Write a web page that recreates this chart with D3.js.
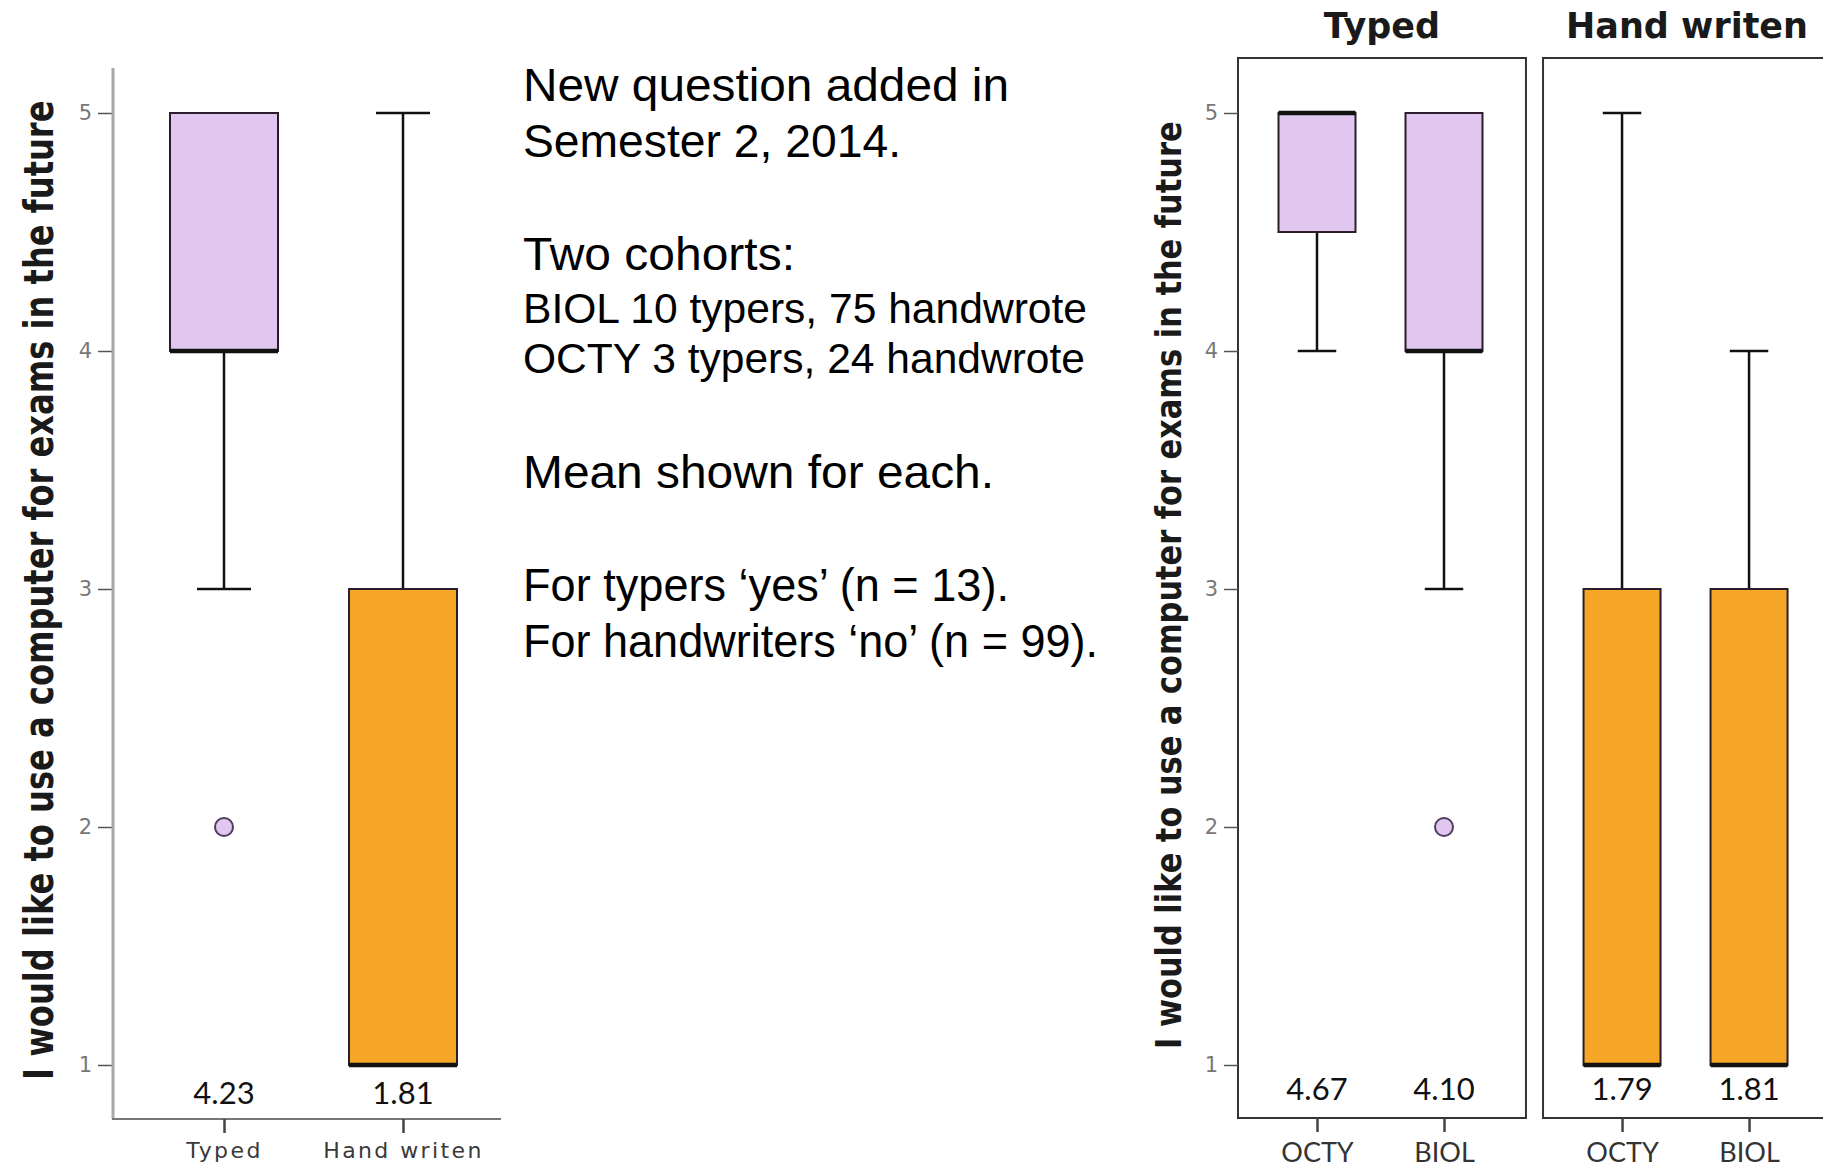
<!DOCTYPE html>
<html>
<head>
<meta charset="utf-8">
<script src="https://cdn.jsdelivr.net/npm/d3@7/dist/d3.min.js"></script>
<style>
  html, body { margin: 0; padding: 0; background: #fff; overflow: hidden; }
  svg { display: block; }
</style>
</head>
<body>
<svg id="chart" width="1823" height="1167"></svg>
<script>
// ---- data ----
const yTicks = [1, 2, 3, 4, 5];

// left chart : all students
const leftCats = ["Typed", "Hand writen"];
const leftLo = [3, 1];
const leftQ1 = [4, 1];
const leftMed = [4, 1];
const leftQ3 = [5, 3];
const leftHi = [5, 5];
const leftOutliers = [[2], []];
const leftMeans = ["4.23", "1.81"];

// right chart : split by cohort
const panels = ["Typed", "Hand writen"];
const cohorts = ["OCTY", "BIOL"];
const rightPanel = ["Typed", "Typed", "Hand writen", "Hand writen"];
const rightCohort = ["OCTY", "BIOL", "OCTY", "BIOL"];
const rightLo = [4, 3, 1, 1];
const rightQ1 = [4.5, 4, 1, 1];
const rightMed = [5, 4, 1, 1];
const rightQ3 = [5, 5, 3, 3];
const rightHi = [5, 5, 5, 4];
const rightOutliers = [[], [2], [], []];
const rightMeans = ["4.67", "4.10", "1.79", "1.81"];

const yTitle = "I would like to use a computer for exams in the future";
const notesBig = ["New question added in", "Semester 2, 2014.", "Two cohorts:"];
const notesSmall = ["BIOL 10 typers, 75 handwrote", "OCTY 3 typers, 24 handwrote"];
const notesBig2 = ["Mean shown for each.", "For typers \u2018yes\u2019 (n = 13).", "For handwriters \u2018no\u2019 (n = 99)."];

const fillColor = { "Typed": "#e1c7ef", "Hand writen": "#f6a626" };

const svg = d3.select("#chart");
const y = d3.scaleLinear().domain([1, 5]).range([1065, 113]);

// draws one box with whiskers; d = {x, w, lo, q1, med, q3, hi, out, fill}
function drawBox(g, d) {
  const capW = d.w / 2;
  // whiskers
  g.append("line").attr("x1", d.x).attr("x2", d.x)
    .attr("y1", y(d.hi)).attr("y2", y(d.q3))
    .attr("stroke", "#111").attr("stroke-width", 2.5);
  g.append("line").attr("x1", d.x).attr("x2", d.x)
    .attr("y1", y(d.q1)).attr("y2", y(d.lo))
    .attr("stroke", "#111").attr("stroke-width", 2.5);
  if (d.hi > d.q3)
    g.append("line").attr("x1", d.x - capW / 2).attr("x2", d.x + capW / 2)
      .attr("y1", y(d.hi)).attr("y2", y(d.hi))
      .attr("stroke", "#111").attr("stroke-width", 2.5);
  if (d.lo < d.q1)
    g.append("line").attr("x1", d.x - capW / 2).attr("x2", d.x + capW / 2)
      .attr("y1", y(d.lo)).attr("y2", y(d.lo))
      .attr("stroke", "#111").attr("stroke-width", 2.5);
  // box
  g.append("rect")
    .attr("x", d.x - d.w / 2).attr("width", d.w)
    .attr("y", y(d.q3)).attr("height", y(d.q1) - y(d.q3))
    .attr("fill", d.fill)
    .attr("stroke", "#2b1d2b").attr("stroke-width", 2);
  // median
  g.append("line").attr("x1", d.x - d.w / 2).attr("x2", d.x + d.w / 2)
    .attr("y1", y(d.med)).attr("y2", y(d.med))
    .attr("stroke", "#111").attr("stroke-width", 4.5);
  // outliers
  g.selectAll("circle.out").data(d.out).enter().append("circle")
    .attr("class", "out")
    .attr("cx", d.x).attr("cy", v => y(v)).attr("r", 9)
    .attr("fill", d.fill).attr("stroke", "#4e3e5e").attr("stroke-width", 2);
}

function styleYAxis(g) {
  g.selectAll(".tick line").attr("stroke", "#555").attr("stroke-width", 1.5);
  g.selectAll(".tick text")
    .attr("fill", "#777")
    .style("font-family", "'DejaVu Sans', sans-serif")
    .style("font-size", "21px");
}

// vertical axis title: sized to span `len` px, glyphs stretched to `cap` px font height
function yTitleText(g, x, yStart, len, cap) {
  const t = g.append("text")
    .style("font-family", "'DejaVu Sans', sans-serif").style("font-weight", "bold")
    .style("font-size", "20px").attr("fill", "#1a1a1a")
    .text(yTitle);
  const fs = 20 * len / t.node().getComputedTextLength();
  t.style("font-size", fs + "px")
    .attr("transform", `translate(${x},${yStart}) rotate(-90) scale(1,${cap / fs})`);
}

//================= left chart =================//
const left = svg.append("g");
const xL = d3.scalePoint().domain(leftCats).range([224, 403]);

const yAxisL = left.append("g")
  .attr("transform", "translate(113,0)")
  .call(d3.axisLeft(y).tickValues(yTicks).tickSize(15).tickPadding(6).tickFormat(d3.format("d")));
yAxisL.select(".domain").remove();
styleYAxis(yAxisL);
left.append("line").attr("x1", 113).attr("x2", 113).attr("y1", 68).attr("y2", 1119)
  .attr("stroke", "#a8a8a8").attr("stroke-width", 3);
left.append("line").attr("x1", 112).attr("x2", 501).attr("y1", 1119).attr("y2", 1119)
  .attr("stroke", "#777").attr("stroke-width", 2);

const xAxisL = left.append("g")
  .attr("transform", "translate(0,1119)")
  .call(d3.axisBottom(xL).tickSize(14).tickPadding(7));
xAxisL.select(".domain").remove();
xAxisL.selectAll(".tick line").attr("stroke", "#444").attr("stroke-width", 2.5);
xAxisL.selectAll(".tick text")
  .attr("fill", "#3a3a3a")
  .attr("dy", "0.8em")
  .style("font-family", "'DejaVu Sans', sans-serif")
  .style("font-size", "22px")
  .style("letter-spacing", "2.4px");

leftCats.forEach((c, i) => {
  drawBox(left, {
    x: xL(c), w: 108, lo: leftLo[i], q1: leftQ1[i], med: leftMed[i],
    q3: leftQ3[i], hi: leftHi[i], out: leftOutliers[i], fill: fillColor[c]
  });
});

left.selectAll("text.mean").data(leftCats).enter().append("text")
  .attr("class", "mean")
  .attr("x", d => xL(d)).attr("y", 1104)
  .attr("text-anchor", "middle")
  .style("font-family", "Lato, sans-serif").style("font-size", "31px")
  .attr("fill", "#111")
  .text((d, i) => leftMeans[i]);

yTitleText(left, 53, 1080, 980, 40);

//================= notes =================//
const notes = svg.append("g").style("font-family", "'Liberation Sans', Arial, sans-serif").attr("fill", "#000");
const noteLines = [
  { t: notesBig[0], y: 101, s: 47, w: 486 },
  { t: notesBig[1], y: 157, s: 47, w: 378 },
  { t: notesBig[2], y: 270, s: 47, w: 272 },
  { t: notesSmall[0], y: 323, s: 42, w: 564 },
  { t: notesSmall[1], y: 373, s: 42, w: 562 },
  { t: notesBig2[0], y: 488, s: 47, w: 471 },
  { t: notesBig2[1], y: 601, s: 47, w: 486 },
  { t: notesBig2[2], y: 657, s: 47, w: 575 }
];
notes.selectAll("text").data(noteLines).enter().append("text")
  .attr("x", 523).attr("y", d => d.y)
  .attr("textLength", d => d.w).attr("lengthAdjust", "spacingAndGlyphs")
  .style("font-size", d => d.s + "px")
  .text(d => d.t);

//================= right chart =================//
const right = svg.append("g");
const xP = d3.scaleBand().domain(panels).range([1238, 1831]).paddingInner(0.056);
const xC = d3.scalePoint().domain(cohorts).range([79, 206]);
const panelTop = 58, panelBottom = 1118;

right.selectAll("rect.panel").data(panels).enter().append("rect")
  .attr("class", "panel")
  .attr("x", d => xP(d)).attr("width", xP.bandwidth())
  .attr("y", panelTop).attr("height", panelBottom - panelTop)
  .attr("fill", "none").attr("stroke", "#333").attr("stroke-width", 2);

right.selectAll("text.ptitle").data(panels).enter().append("text")
  .attr("class", "ptitle")
  .attr("x", d => xP(d) + xP.bandwidth() / 2).attr("y", 38)
  .attr("text-anchor", "middle")
  .style("font-family", "'DejaVu Sans', sans-serif").style("font-weight", "bold")
  .style("font-size", "35px").attr("fill", "#1a1a1a")
  .text(d => d);

const yAxisR = right.append("g")
  .attr("transform", "translate(1238,0)")
  .call(d3.axisLeft(y).tickValues(yTicks).tickSize(14).tickPadding(6).tickFormat(d3.format("d")));
yAxisR.select(".domain").remove();
styleYAxis(yAxisR);

panels.forEach(p => {
  const xAxisR = right.append("g")
    .attr("transform", `translate(${xP(p)},${panelBottom})`)
    .call(d3.axisBottom(xC).tickSize(14).tickPadding(6));
  xAxisR.select(".domain").remove();
  xAxisR.selectAll(".tick line").attr("stroke", "#444").attr("stroke-width", 2.5);
  xAxisR.selectAll(".tick text")
    .attr("fill", "#333")
    .attr("dy", "0.88em")
    .style("font-family", "Lato, sans-serif")
    .style("font-size", "27px");
});

rightPanel.forEach((p, i) => {
  drawBox(right, {
    x: xP(p) + xC(rightCohort[i]), w: 77, lo: rightLo[i], q1: rightQ1[i], med: rightMed[i],
    q3: rightQ3[i], hi: rightHi[i], out: rightOutliers[i], fill: fillColor[p]
  });
});

right.selectAll("text.mean").data(rightPanel).enter().append("text")
  .attr("class", "mean")
  .attr("x", (d, i) => xP(d) + xC(rightCohort[i])).attr("y", 1100)
  .attr("text-anchor", "middle")
  .style("font-family", "Lato, sans-serif").style("font-size", "31px")
  .attr("fill", "#111")
  .text((d, i) => rightMeans[i]);

yTitleText(right, 1181, 1049, 928, 35);
</script>
</body>
</html>
